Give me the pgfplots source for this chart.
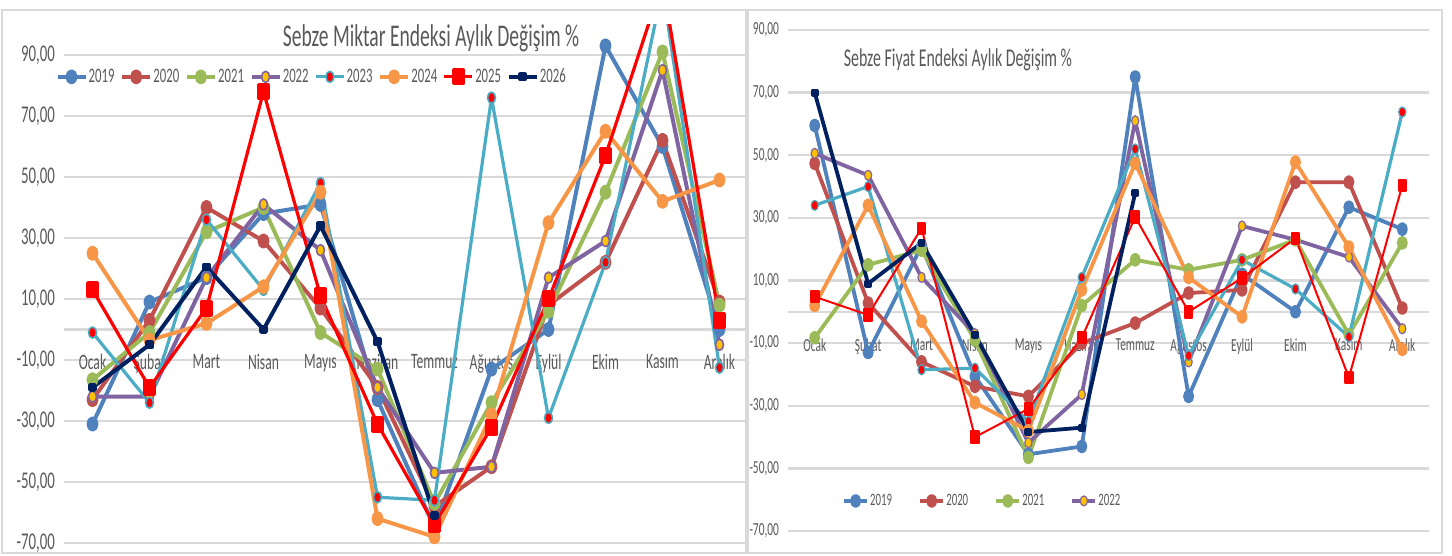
\documentclass[border=0pt]{standalone}
\usepackage{pgfplots}
\pgfplotsset{compat=1.18}
\usepackage{fontspec}
\setmainfont{Carlito}[FakeStretch=0.62]
\definecolor{c19}{HTML}{4F81BD}
\definecolor{c20}{HTML}{C0504D}
\definecolor{c21}{HTML}{9BBB59}
\definecolor{c22}{HTML}{8064A2}
\definecolor{c23}{HTML}{4BACC6}
\definecolor{c24}{HTML}{F79646}
\definecolor{c25}{HTML}{FF0000}
\definecolor{c26}{HTML}{002060}
\definecolor{yel}{HTML}{FFC000}
\definecolor{txt}{HTML}{595959}
\definecolor{gridc}{HTML}{D9D9D9}
\pgfplotsset{
  panel/.style={
    scale only axis, xmin=-0.5, xmax=11.5,
    xtick={0,...,11},
    xticklabels={Ocak,Şubat,Mart,Nisan,Mayıs,Haziran,Temmuz,Ağustos,Eylül,Ekim,Kasım,Aralık},
    ytick={-70,-50,...,90},
    yticklabels={{-70,00},{-50,00},{-30,00},{-10,00},{10,00},{30,00},{50,00},{70,00},{90,00}},
    ymajorgrids, major grid style={draw=gridc, line width=1.2bp},
    axis x line=middle, axis y line=left,
    x axis line style={draw=gridc, line width=1.2bp, -},
    y axis line style={draw=none},
    major tick length=0pt, tick style={draw=none},
    every tick label/.append style={text=txt},
    line join=round,
    legend cell align=left,
  }
}
\begin{document}
\begin{tikzpicture}
\path[use as bounding box] (0,0) rectangle (726bp,278bp);
\draw[gridc, line width=0.8bp] (1bp,1.5bp) rectangle (373bp,273bp);
% ---------------- left chart
\begin{axis}[panel,
  at={(32bp,6.5bp)}, anchor=south west,
  width=342bp, height=259.25bp,
  ymin=-70, ymax=100,
  yticklabel style={font=\fontsize{12bp}{12bp}\selectfont, xshift=-1bp},
  xticklabel style={font=\fontsize{11bp}{11bp}\selectfont, yshift=-9bp},
  legend columns=8,
  legend style={at={(-0.013,0.899)}, anchor=west, draw=none, fill=none,
    font=\fontsize{10.3bp}{10.3bp}\selectfont, text=txt,
    inner sep=0pt, nodes={inner sep=0.6bp},
    /tikz/every even column/.append style={column sep=2.2bp}},
  legend image code/.code={\draw[mark repeat=2,mark phase=2] plot coordinates {(0bp,0bp)(7bp,0bp)(14bp,0bp)};},
]
\addplot[c19, line width=2bp, mark=*, mark size=2bp, mark options={yscale=1.4}] coordinates {(0,-31)(1,9)(2,17)(3,38)(4,41)(5,-23)(6,-65)(7,-13)(8,0)(9,93)(10,60)(11,0)};
\addplot[c20, line width=2bp, mark=*, mark size=2bp, mark options={yscale=1.4}] coordinates {(0,-23)(1,3)(2,40)(3,29)(4,7)(5,-19)(6,-58)(7,-45)(8,8)(9,22)(10,62)(11,9)};
\addplot[c21, line width=2bp, mark=*, mark size=2bp, mark options={yscale=1.4}] coordinates {(0,-16.5)(1,-1)(2,32)(3,40)(4,-1)(5,-13)(6,-57)(7,-24)(8,6)(9,45)(10,91)(11,8)};
\addplot[c22, line width=2bp, mark=*, mark size=2bp, mark options={yscale=1.4, fill=yel, draw=c22, line width=0.8bp}] coordinates {(0,-22)(1,-22)(2,17)(3,41)(4,26)(5,-19)(6,-47)(7,-45)(8,17)(9,29)(10,85)(11,-5)};
\addplot[c23, line width=1.6bp, mark=*, mark size=2bp, mark options={yscale=1.4, fill=c25, draw=c23, line width=0.8bp}] coordinates {(0,-1)(1,-24)(2,36)(3,13)(4,48)(5,-55)(6,-56)(7,76)(8,-29)(9,22)(10,112)(11,-12.5)};
\addplot[c24, line width=2bp, mark=*, mark size=2bp, mark options={yscale=1.4}] coordinates {(0,25)(1,-3.5)(2,2)(3,14)(4,45)(5,-62)(6,-68)(7,-28)(8,35)(9,65)(10,42)(11,49)};
\addplot[c25, line width=1.6bp, mark=square*, mark size=2.3bp, mark options={yscale=1.5}] coordinates {(0,13)(1,-19)(2,7)(3,78)(4,11)(5,-31)(6,-64)(7,-32)(8,10)(9,57)(10,114)(11,3)};
\addplot[c26, line width=2bp, mark=square*, mark size=1.2bp] coordinates {(0,-19)(1,-5)(2,20.5)(3,0)(4,34)(5,-4)(6,-61)};
\legend{2019,2020,2021,2022,2023,2024,2025,2026}
\end{axis}
\node[text=txt, font=\fontsize{15.8bp}{15.8bp}\selectfont] at (215.5bp,259bp) {Sebze Miktar Endeksi Aylık Değişim \%};
% ---------------- right chart
\draw[gridc, line width=0.8bp, fill=white] (374bp,1.5bp) rectangle (721bp,273bp);
\begin{axis}[panel,
  at={(394bp,12.5bp)}, anchor=south west,
  width=320.5bp, height=250.5bp,
  ymin=-70, ymax=90,
  yticklabel style={font=\fontsize{9.2bp}{9.2bp}\selectfont, xshift=-1bp},
  xticklabel style={font=\fontsize{9.2bp}{9.2bp}\selectfont, yshift=-10bp},
  legend columns=4,
  legend style={at={(0.084,0.06)}, anchor=west, draw=none, fill=none,
    font=\fontsize{8.7bp}{8.7bp}\selectfont, text=txt,
    inner sep=0pt, nodes={inner sep=0.6bp},
    /tikz/every even column/.append style={column sep=12.5bp}},
  legend image code/.code={\draw[mark repeat=2,mark phase=2] plot coordinates {(0bp,0bp)(5.75bp,0bp)(11.5bp,0bp)};},
]
\addplot[c19, line width=1.9bp, mark=*, mark size=1.8bp, mark options={yscale=1.4}] coordinates {(0,59.5)(1,-13)(2,21)(3,-20.6)(4,-45.5)(5,-43)(6,75)(7,-27)(8,12)(9,0)(10,33.4)(11,26.4)};
\addplot[c20, line width=1.9bp, mark=*, mark size=1.8bp, mark options={yscale=1.4}] coordinates {(0,47.4)(1,2.8)(2,-16)(3,-23.8)(4,-27)(5,-10)(6,-3.6)(7,6)(8,7)(9,41.4)(10,41.4)(11,1.2)};
\addplot[c21, line width=1.9bp, mark=*, mark size=1.8bp, mark options={yscale=1.4}] coordinates {(0,-8.3)(1,15)(2,19.7)(3,-9)(4,-46.5)(5,2)(6,16.6)(7,13.4)(8,16.6)(9,23)(10,-7.3)(11,22)};
\addplot[c22, line width=1.9bp, mark=*, mark size=1.8bp, mark options={yscale=1.4, fill=yel, draw=c22, line width=0.6bp}] coordinates {(0,50.6)(1,43.6)(2,11)(3,-7)(4,-41.8)(5,-26.4)(6,61)(7,-16)(8,27.4)(9,23)(10,17.5)(11,-5.4)};
\addplot[c23, line width=1.6bp, mark=*, mark size=1.8bp, mark options={yscale=1.4, fill=c25, draw=c23, line width=0.6bp}] coordinates {(0,34)(1,40)(2,-18.5)(3,-18)(4,-35)(5,11)(6,52)(7,-14)(8,16.6)(9,7.3)(10,-8)(11,63.8)};
\addplot[c24, line width=1.9bp, mark=*, mark size=1.8bp, mark options={yscale=1.4}] coordinates {(0,2)(1,34)(2,-3)(3,-29)(4,-38)(5,7)(6,47.4)(7,11)(8,-1.6)(9,47.8)(10,20.7)(11,-12)};
\addplot[c25, line width=1bp, mark=square*, mark size=1.9bp, mark options={yscale=1.5}] coordinates {(0,4.8)(1,-1)(2,26.7)(3,-40)(4,-31)(5,-8.3)(6,30.3)(7,0)(8,10.8)(9,23.5)(10,-21)(11,40.4)};
\addplot[c26, line width=1.9bp, mark=square*, mark size=1bp] coordinates {(0,70)(1,9)(2,22)(3,-7.3)(4,-38.4)(5,-37)(6,38)};
\legend{2019,2020,2021,2022}
\end{axis}
\node[text=txt, font=\fontsize{12.8bp}{12.8bp}\selectfont] at (479bp,248bp) {Sebze Fiyat Endeksi Aylık Değişim \%};
\end{tikzpicture}
\end{document}
